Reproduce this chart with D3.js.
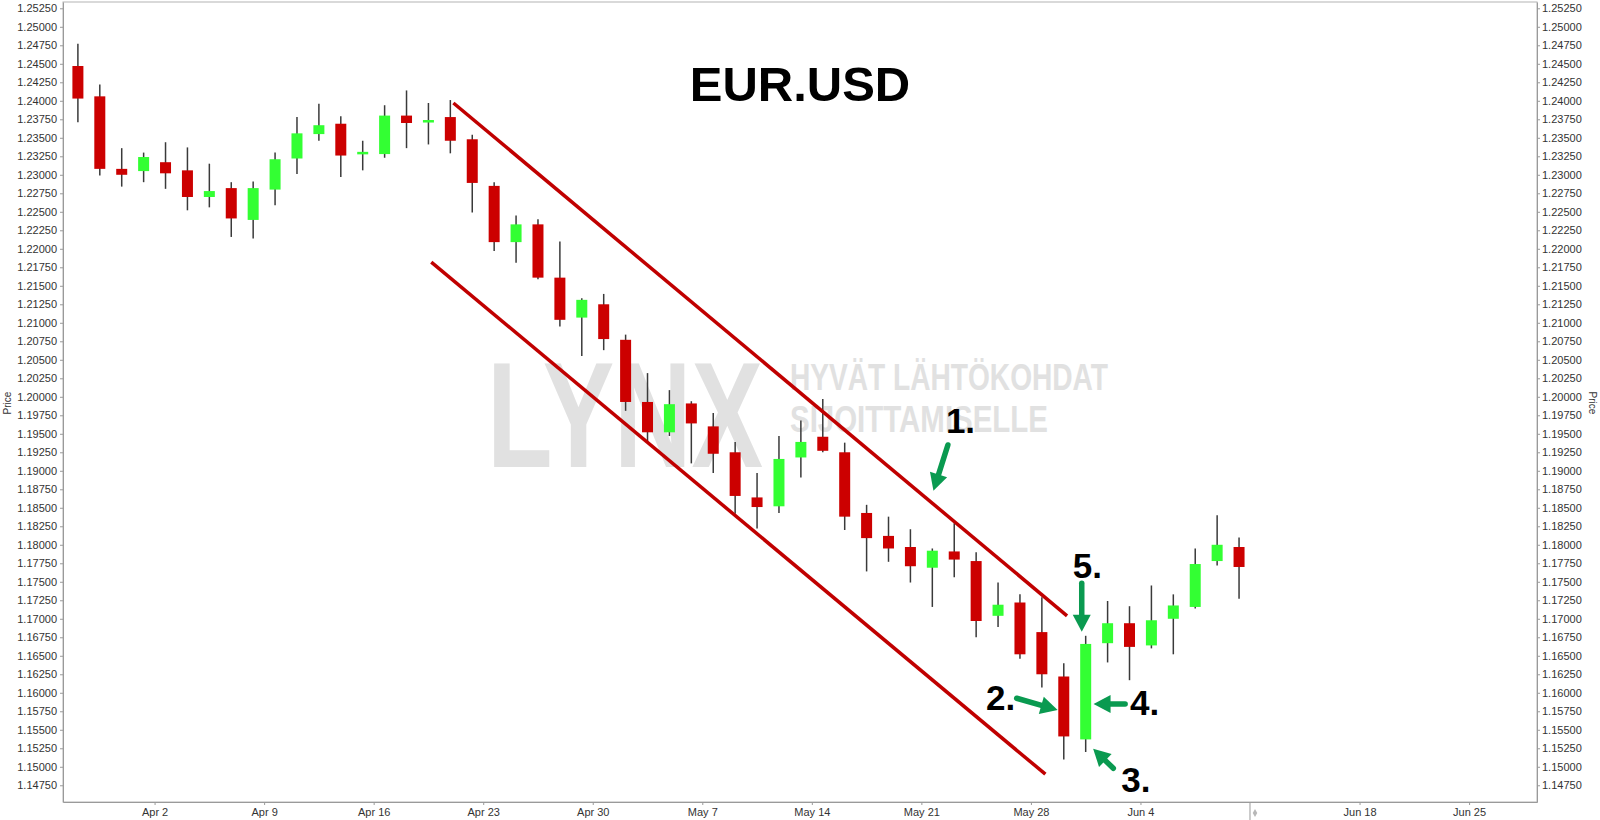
<!DOCTYPE html>
<html><head><meta charset="utf-8">
<script src="https://cdn.jsdelivr.net/npm/d3@7"></script>
<style>body{margin:0;background:#fff}svg{display:block;font-family:"Liberation Sans",Arial,sans-serif}</style>
</head><body>
<svg id="c" width="1600" height="820"></svg>
<script>
// ---------- DATA ----------
const dates = ["Mar 27","Mar 28","Mar 29","Mar 30","Apr 2","Apr 3","Apr 4","Apr 5","Apr 6",
 "Apr 9","Apr 10","Apr 11","Apr 12","Apr 13","Apr 16","Apr 17","Apr 18","Apr 19","Apr 20",
 "Apr 23","Apr 24","Apr 25","Apr 26","Apr 27","Apr 30","May 1","May 2","May 3","May 4",
 "May 7","May 8","May 9","May 10","May 11","May 14","May 15","May 16","May 17","May 18",
 "May 21","May 22","May 23","May 24","May 25","May 28","May 29","May 30","May 31","Jun 1",
 "Jun 4","Jun 5","Jun 6","Jun 7","Jun 8"];
const open  = [1.2447,1.2406,1.2308,1.2305,1.2317,1.2306,1.2270,1.2282,1.2239,
 1.2280,1.2322,1.2355,1.2369,1.2328,1.2328,1.2380,1.2372,1.2378,1.2348,
 1.2285,1.2209,1.2233,1.2161,1.2107,1.2125,1.2077,1.1993,1.1952,1.1991,
 1.1960,1.1925,1.1864,1.1852,1.1918,1.1946,1.1925,1.1843,1.1812,1.1797,
 1.1769,1.1791,1.1778,1.1704,1.1722,1.1682,1.1622,1.1537,1.1667,1.1694,
 1.1664,1.1700,1.1716,1.1778,1.1797];
const high  = [1.2477,1.2422,1.2336,1.2330,1.2344,1.2337,1.2315,1.2290,1.2291,
 1.2330,1.2378,1.2396,1.2379,1.2346,1.2394,1.2414,1.2397,1.2401,1.2354,
 1.2290,1.2245,1.2240,1.2210,1.2133,1.2139,1.2084,1.2032,1.2009,1.1994,
 1.1978,1.1939,1.1897,1.1947,1.1968,1.1997,1.1938,1.1854,1.1838,1.1821,
 1.1795,1.1829,1.1790,1.1749,1.1733,1.1729,1.1640,1.1677,1.1724,1.1717,
 1.1745,1.1733,1.1795,1.1840,1.1810];
const low   = [1.2371,1.2299,1.2284,1.2290,1.2281,1.2252,1.2256,1.2216,1.2214,
 1.2259,1.2301,1.2346,1.2297,1.2306,1.2323,1.2336,1.2341,1.2329,1.2249,
 1.2197,1.2181,1.2159,1.2095,1.2055,1.2063,1.1981,1.1939,1.1947,1.1910,
 1.1897,1.1842,1.1822,1.1843,1.1891,1.1925,1.1820,1.1764,1.1777,1.1749,
 1.1716,1.1756,1.1675,1.1689,1.1646,1.1607,1.1510,1.1520,1.1641,1.1617,
 1.1660,1.1652,1.1714,1.1772,1.1727];
const close = [1.2403,1.2308,1.2300,1.2324,1.2302,1.2270,1.2278,1.2241,1.2282,
 1.2321,1.2356,1.2367,1.2326,1.2331,1.2380,1.2370,1.2374,1.2346,1.2289,
 1.2209,1.2233,1.2161,1.2104,1.2131,1.2078,1.1993,1.1952,1.1990,1.1964,
 1.1923,1.1866,1.1851,1.1916,1.1939,1.1927,1.1838,1.1809,1.1795,1.1771,
 1.1792,1.1780,1.1697,1.1719,1.1652,1.1625,1.1541,1.1666,1.1694,1.1662,
 1.1698,1.1718,1.1774,1.1800,1.1770];

// x ticks: weekday index of each Monday (label sits at the session boundary)
const xTickIndex  = [4,9,14,19,24,29,34,39,44,49,59,64];
const xTickLabels = ["Apr 2","Apr 9","Apr 16","Apr 23","Apr 30","May 7","May 14","May 21","May 28","Jun 4","Jun 18","Jun 25"];
const yTicks = [1.1475,1.1500,1.1525,1.1550,1.1575,1.1600,1.1625,1.1650,1.1675,1.1700,
 1.1725,1.1750,1.1775,1.1800,1.1825,1.1850,1.1875,1.1900,1.1925,1.1950,1.1975,1.2000,
 1.2025,1.2050,1.2075,1.2100,1.2125,1.2150,1.2175,1.2200,1.2225,1.2250,1.2275,1.2300,
 1.2325,1.2350,1.2375,1.2400,1.2425,1.2450,1.2475,1.2500,1.2525];

// channel lines (index, price)
const channelUpper = [[17.14,1.2397],[45.15,1.1704]];
const channelLower = [[16.13,1.2182],[44.16,1.1490]];
// annotation arrows [tailIdx, tailPrice, tipIdx, tipPrice]
const arrows = [
  [39.71,1.19349,39.05,1.18731],
  [42.85,1.15926,44.72,1.15767],
  [47.26,1.14980,46.34,1.15245],
  [47.80,1.15849,46.36,1.15849],
  [45.82,1.17480,45.82,1.16826]
];
const notes = [
  ["1.",39.62,1.19511],
  ["2.",41.45,1.15767],
  ["3.",47.62,1.14662],
  ["4.",48.02,1.15700],
  ["5.",45.41,1.17555]
];

// ---------- CHART ----------
const svg = d3.select("#c");
const L=63, R=1537, T=2, B=802;
const x = d3.scaleLinear().domain([-0.68, 66.6]).range([L, R]);
const y = d3.scaleLinear().domain([1.14524, 1.25335]).range([B, T]);

// watermark
const wm = svg.append("g").attr("fill","#e1e1e1").attr("font-weight","bold");
wm.append("text").attr("x",487).attr("y",467).attr("font-size",150)
  .attr("textLength",276).attr("lengthAdjust","spacingAndGlyphs").text("LYNX");
wm.append("text").attr("x",790).attr("y",390).attr("font-size",37)
  .attr("textLength",318).attr("lengthAdjust","spacingAndGlyphs").text("HYVÄT LÄHTÖKOHDAT");
wm.append("text").attr("x",790).attr("y",432).attr("font-size",37)
  .attr("textLength",258).attr("lengthAdjust","spacingAndGlyphs").text("SIJOITTAMISELLE");

// frame
svg.append("rect").attr("x",L).attr("y",T).attr("width",R-L).attr("height",B-T)
  .attr("fill","none").attr("stroke","#b4b4b4").attr("stroke-width",1);

// axes
const fmt = d3.format(".5f");
const axL = svg.append("g").attr("transform",`translate(${L},0)`)
  .call(d3.axisLeft(y).tickValues(yTicks).tickFormat(fmt).tickSize(3).tickSizeOuter(0));
const axR = svg.append("g").attr("transform",`translate(${R},0)`)
  .call(d3.axisRight(y).tickValues(yTicks).tickFormat(fmt).tickSize(3).tickSizeOuter(0));
const axB = svg.append("g").attr("transform",`translate(0,${B})`)
  .call(d3.axisBottom(x).tickValues(xTickIndex.map(i=>i-0.5))
    .tickFormat((d,i)=>xTickLabels[i]).tickSize(3).tickSizeOuter(0));
[axL,axR,axB].forEach(a=>{
  a.selectAll("path.domain").attr("stroke","#9a9a9a");
  a.selectAll(".tick line").attr("stroke","#9a9a9a");
  a.selectAll("text").attr("fill","#333").attr("font-size",11)
    .attr("font-family",'"Liberation Sans",Arial,sans-serif');
});
axL.selectAll("text").attr("x",-6);
axR.selectAll("text").attr("x",5);
axB.selectAll("text").attr("y",6);

// separator between history and future area
const sepX = x(53.5);
svg.append("line").attr("x1",sepX).attr("x2",sepX).attr("y1",B).attr("y2",820)
  .attr("stroke","#9a9a9a");
svg.append("path").attr("d",d3.symbol(d3.symbolDiamond,18)())
  .attr("transform",`translate(${sepX+5},${B+11})`).attr("fill","#b8b8b8");

// axis titles
svg.append("text").attr("transform","translate(11,403) rotate(-90)")
  .attr("text-anchor","middle").attr("font-size",10).attr("fill","#333").text("Price");
svg.append("text").attr("transform","translate(1589,403) rotate(90)")
  .attr("text-anchor","middle").attr("font-size",10).attr("fill","#333").text("Price");

// candles
const data = dates.map((d,i)=>({i,d,o:open[i],h:high[i],l:low[i],c:close[i]}));
const cg = svg.append("g");
cg.selectAll("line.w").data(data).join("line").attr("class","w")
  .attr("x1",d=>x(d.i)).attr("x2",d=>x(d.i))
  .attr("y1",d=>y(d.h)).attr("y2",d=>y(d.l))
  .attr("stroke","#3a3a3a").attr("stroke-width",1.5);
const bw = 11;
cg.selectAll("rect.b").data(data).join("rect").attr("class","b")
  .attr("x",d=>x(d.i)-bw/2).attr("width",bw)
  .attr("y",d=>Math.min(y(d.o),y(d.c)))
  .attr("height",d=>Math.max(2.5,Math.abs(y(d.o)-y(d.c))))
  .attr("fill",d=>d.c>=d.o?"#33ff33":"#cc0000");

// channel
const ln = d3.line().x(d=>x(d[0])).y(d=>y(d[1]));
[channelUpper,channelLower].forEach(c=>{
  svg.append("path").attr("d",ln(c)).attr("stroke","#c00000")
    .attr("stroke-width",3.5).attr("fill","none");
});

// title
svg.append("text").attr("x",800).attr("y",101).attr("text-anchor","middle")
  .attr("font-size",49).attr("font-weight","bold").attr("fill","#000").text("EUR.USD");

// arrows
const ac = "#0a9a50";
arrows.forEach(a=>{
  const x1=x(a[0]), y1=y(a[1]), x2=x(a[2]), y2=y(a[3]);
  const dx=x2-x1, dy=y2-y1, len=Math.hypot(dx,dy), ux=dx/len, uy=dy/len;
  const hl=17, hw=9;
  const bx=x2-ux*hl, by=y2-uy*hl;
  svg.append("line").attr("x1",x1).attr("y1",y1).attr("x2",bx+ux*2).attr("y2",by+uy*2)
    .attr("stroke",ac).attr("stroke-width",5.5).attr("stroke-linecap","round");
  svg.append("path").attr("d",`M${x2},${y2}L${bx-uy*hw},${by+ux*hw}L${bx+uy*hw},${by-ux*hw}Z`)
    .attr("fill",ac);
});
notes.forEach(n=>{
  svg.append("text").attr("x",x(n[1])).attr("y",y(n[2])).attr("font-size",35)
    .attr("font-weight","bold").attr("fill","#000").text(n[0]);
});
</script>
</body></html>
